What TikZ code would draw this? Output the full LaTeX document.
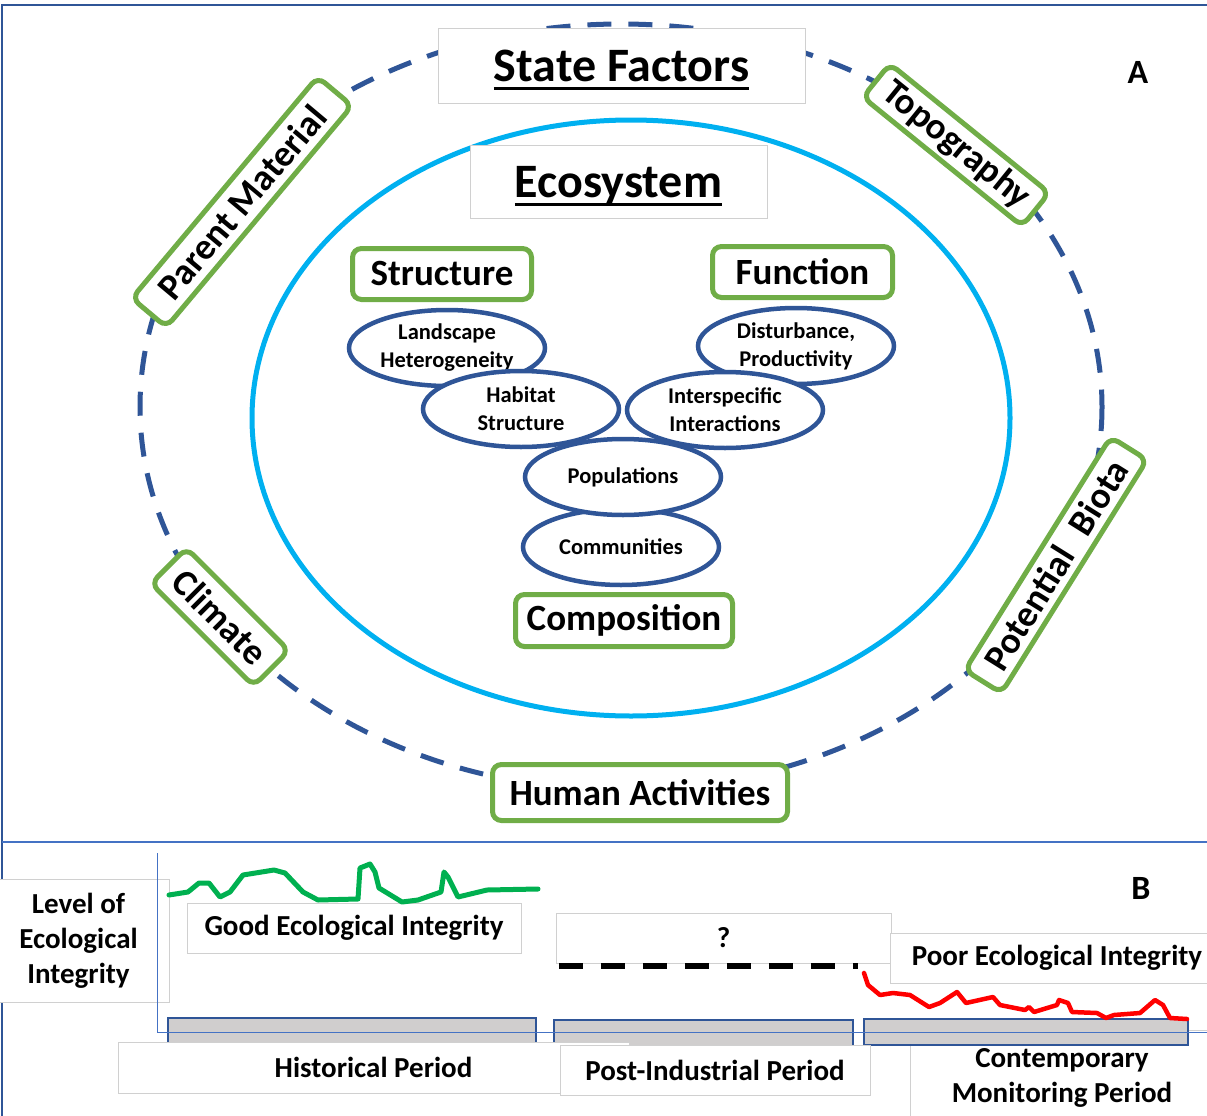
\documentclass[tikz,border=0pt]{standalone}
\usepackage{fontspec}
\setmainfont{Carlito}
\usetikzlibrary{shapes.geometric}
\usepackage{xcolor}

\definecolor{frameblue}{HTML}{2F5597}
\definecolor{axisblue}{HTML}{4472C4}
\definecolor{ecocyan}{HTML}{00B0F0}
\definecolor{factorgreen}{HTML}{70AD47}
\definecolor{goodgreen}{HTML}{00B050}
\definecolor{boxgray}{HTML}{D0D0D0}
\definecolor{bargray}{HTML}{D0CECE}

% thick underline for the two headings
\newcommand{\heading}[1]{\setbox0\hbox{#1}\rlap{\smash{\rule[-9pt]{\wd0}{3pt}}}\box0}

\begin{document}
\begin{tikzpicture}[x=1pt, y=-1pt, every node/.style={font=\bfseries},
	factor/.style={draw=factorgreen, line width=5pt, rounded corners=9pt, fill=white,
		inner sep=0pt, font=\fontsize{37}{44}\selectfont\bfseries},
	title/.style={draw=boxgray, line width=0.8pt, fill=white, inner sep=0pt, text depth=0pt,
		font=\fontsize{48}{56}\selectfont\bfseries},
	part/.style={ellipse, draw=frameblue, line width=4.5pt, fill=white, inner sep=0pt,
		minimum width=196pt, minimum height=76pt, align=center,
		font=\fontsize{22.5}{28}\selectfont\bfseries},
	period/.style={draw=boxgray, line width=0.8pt, fill=white, inner sep=0pt, align=center,
		font=\fontsize{29}{35}\selectfont\bfseries},
	bar/.style={draw=frameblue, line width=2pt, fill=bargray},
	panel/.style={font=\fontsize{34}{40}\selectfont\bfseries}]
	\useasboundingbox (0,0) rectangle (1207,1116);

	% frame of the two panels
	\draw[frameblue, line width=2pt] (1207,5) -- (2,5) -- (2,1116);
	\draw[axisblue, line width=1.2pt] (2,842) -- (1207,842);

	% --- panel A ---
	\draw[frameblue, line width=5pt, dash pattern=on 24pt off 17pt] (621,407) ellipse [x radius=481, y radius=383];
	\draw[ecocyan, line width=5pt] (631,418) ellipse [x radius=379, y radius=298];

	\node[title, minimum width=367pt, minimum height=75pt] (sf) at (621.5,65.5) {\heading{State Factors}};
	\node[title, minimum width=297pt, minimum height=73pt] (eco) at (618.5,181.5) {\heading{Ecosystem}};
	\node[panel] (pa) at (1138,72) {A};

	\node[factor, minimum width=179pt, minimum height=51pt] (struct) at (442,274) {Structure};
	\node[factor, minimum width=180pt, minimum height=51pt] (func) at (802.5,272) {Function};
	\node[factor, minimum width=217pt, minimum height=52pt] (comp) at (624,620.5) {Composition};
	\node[factor, minimum width=295pt, minimum height=56pt] (human) at (640,792.5) {Human Activities};
	\node[factor, rotate=50, minimum width=289pt, minimum height=45pt] (parent) at (242,202) {Parent Material};
	\node[factor, rotate=-39, minimum width=205pt, minimum height=43pt] (topo) at (956,145) {Topography};
	\node[factor, rotate=-45, minimum width=145pt, minimum height=50pt] (clim) at (220,617) {Climate};
	\node[factor, rotate=58, minimum width=275pt, minimum height=43pt] (biota) at (1056,565) {Potential\hspace{0.35em} Biota};

	\node[part] (land) at (447,348) {Landscape\\Heterogeneity};
	\node[part] (dist) at (796,346) {Disturbance,\\Productivity};
	\node[part] (hab) at (521,409) {Habitat\\Structure};
	\node[part] (inter) at (725,410) {Interspecific\\Interactions};
	\node[part] (comm) at (621,547) {Communities};
	\node[part] (pop) at (623,477) {Populations};

	% --- panel B ---
	\node[panel] (pb) at (1141,888) {B};
	\node[period, minimum width=181pt, minimum height=123pt] (level) at (78.5,940.5) {Level of\\Ecological\\Integrity};
	\node[period, minimum width=334pt, minimum height=50pt] (good) at (354,928) {Good Ecological Integrity};
	\node[period, minimum width=335pt, minimum height=50pt] (unknown) at (723.5,938) {?};
	\node[period, minimum width=334pt, minimum height=50pt] (poor) at (1057,958) {Poor Ecological Integrity};
	\node[period, minimum width=304pt, minimum height=96pt] (contemp) at (1062,1078) {Contemporary\\Monitoring Period};

	\draw[bar] (168,1018) rectangle (536,1050);
	\draw[bar] (554,1020) rectangle (853,1050);
	\draw[bar] (864,1019) rectangle (1188,1045);

	\node[period, minimum width=511pt, minimum height=51pt] (hist) at (373.5,1067.5) {Historical Period};
	\node[period, minimum width=310pt, minimum height=50pt] (post) at (715,1070) {Post-Industrial Period};

	% axes
	\draw[axisblue, line width=1pt] (157,853) -- (157,1032) -- (1207,1032);

	% integrity traces
	\draw[goodgreen, line width=5pt, line join=round, line cap=round]
		(169,895) -- (188,892) -- (199,883) -- (209,883) -- (220,897) -- (230,892) -- (243,875)
		-- (274,870) -- (285,873) -- (303,892) -- (318,900) -- (358,899) -- (360,868) -- (370,864)
		-- (375,872) -- (379,888) -- (402,902) -- (418,900) -- (441,892) -- (444,872) -- (448,877)
		-- (458,897) -- (487,890) -- (538,889);
	\draw[line width=6pt, dash pattern=on 24pt off 18pt] (559,966) -- (858,966);
	\draw[red, line width=4.5pt, line join=round, line cap=round]
		(864,973) -- (868,985) -- (880,995) -- (893,993) -- (910,995) -- (929,1007) -- (940,1003)
		-- (957,992) -- (966,1003) -- (993,997) -- (1000,1005) -- (1025,1010) -- (1029,1007)
		-- (1034,1012) -- (1057,1005) -- (1059,1000) -- (1068,1003) -- (1072,1012) -- (1097,1013)
		-- (1106,1018) -- (1114,1015) -- (1140,1013) -- (1155,1000) -- (1163,1005) -- (1170,1018)
		-- (1187,1019);
\end{tikzpicture}
\end{document}
